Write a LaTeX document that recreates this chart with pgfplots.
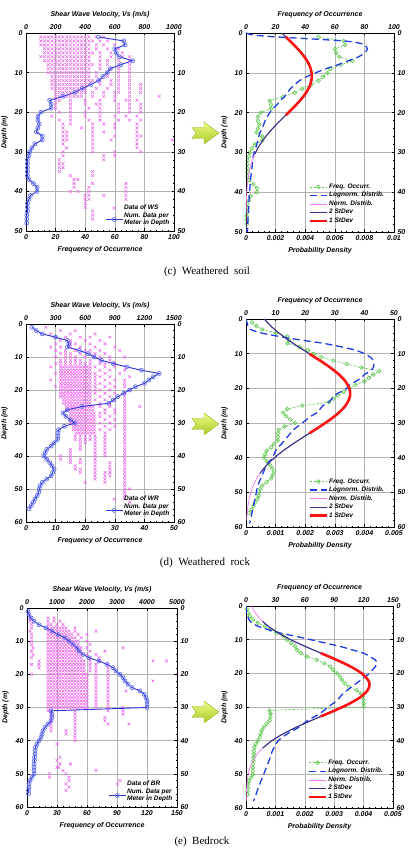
\documentclass[border=0pt]{standalone}
\usepackage{fontspec}
\setmainfont{Liberation Sans}
\newfontfamily\capfont{Liberation Serif}
\usepackage{pgfplots}
\pgfplotsset{compat=1.18}
\definecolor{pinkx}{RGB}{236,105,236}
\definecolor{blueline}{RGB}{45,45,215}
\definecolor{bluecirc}{RGB}{95,110,240}
\definecolor{greenc}{RGB}{95,200,80}
\definecolor{logblue}{RGB}{30,60,225}
\definecolor{normpink}{RGB}{240,120,240}
\definecolor{navyc}{RGB}{50,50,130}
\definecolor{redc}{RGB}{250,20,20}
\newcommand\lf{\fontsize{7}{8}\selectfont\bfseries\itshape}
\newcommand\lgf{\fontsize{6.5}{7.2}\selectfont\bfseries\itshape}
\pgfplotsset{
 base/.style={scale only axis, y dir=reverse, ymin=0, xmin=0, anchor=south west,
   tick align=inside, major tick length=2.5pt, minor tick length=1.3pt,
   minor x tick num=4, minor y tick num=4,
   tick style={black, line width=0.4pt}, axis line style={line width=0.5pt},
   ticklabel style={font=\lf}, label style={font=\lf},
   /pgf/number format/assume math mode=true, /pgf/number format/1000 sep={},
   scaled x ticks=false, clip=true},
 top/.style={base, xticklabel pos=upper, yticklabel pos=right, grid=major,
   major grid style={gray!60, line width=0.5pt}},
 bot/.style={base, xticklabel pos=lower, yticklabel pos=left, ylabel={Depth (m)}},
 leftleg/.style={legend style={at={(0.995,0.01)}, anchor=south east, draw=none, fill=none,
   font=\lgf, nodes={align=left, inner sep=0.8pt}, row sep=0pt}, legend cell align=left},
 rightleg/.style={legend style={at={(0.96,0.025)}, anchor=south east, draw=none, fill=none,
   font=\lgf, nodes={inner sep=0.9pt}, row sep=0.6pt}, legend cell align=left},
 scat/.style={only marks, mark=x, mark size=2pt, draw=pinkx, mark options={line width=0.55pt, draw=pinkx}},
 freqline/.style={color=blueline, line width=0.9pt, mark=o, mark size=2pt, mark options={solid, draw=bluecirc, line width=0.7pt}},
 freqgreen/.style={color=greenc, line width=0.6pt, dash pattern=on 2.5pt off 1.5pt, mark=o, mark size=1.9pt, mark options={solid, line width=0.6pt}},
 lognorm/.style={color=logblue, line width=1.3pt, dash pattern=on 7pt off 4pt, no marks, smooth},
 normp/.style={color=normpink, line width=0.7pt, no marks, smooth},
 sd2/.style={color=navyc, line width=1.1pt, no marks, smooth},
 sd1/.style={color=redc, line width=2.6pt, no marks, smooth},
}
\newcommand\garrow[1]{%
 \begin{scope}[shift={(0pt,#1)}]
 \path[top color={rgb,255:red,240;green,248;blue,130}, bottom color={rgb,255:red,165;green,205;blue,40}, draw={rgb,255:red,150;green,180;blue,40}, line width=0.4pt]
 (192pt,5.5pt) -- (204pt,5.5pt) -- (204pt,11pt) -- (219pt,0pt) -- (204pt,-11pt) -- (204pt,-5.5pt) -- (192pt,-5.5pt) -- (196pt,0pt) -- cycle;
 \end{scope}}
\begin{document}
\begin{tikzpicture}
\useasboundingbox (0,0) rectangle (416pt,849pt);
%================= (c) left =================
\begin{axis}[top, at={(26pt,618pt)}, width=148pt, height=198pt, xmax=1000, ymax=50,
  xtick={0,200,400,600,800,1000}, ytick={0,10,20,30,40,50}, xlabel={Shear Wave Velocity, Vs (m/s)}]
\addplot[scat] coordinates {
(100,1)(125,1)(150,1)(175,1)(200,1)(225,1)(250,1)(275,1)(300,1)(325,1)(350,1)(375,1)(400,1)(425,1)(475,1)(525,1)
(100,2)(125,2)(150,2)(175,2)(200,2)(225,2)(250,2)(275,2)(300,2)(325,2)(350,2)(375,2)(400,2)(425,2)(450,2)(500,2)(550,2)
(100,3)(125,3)(150,3)(175,3)(200,3)(225,3)(250,3)(275,3)(300,3)(325,3)(350,3)(375,3)(400,3)(425,3)(475,3)(525,3)(600,3)
(125,4)(150,4)(175,4)(200,4)(225,4)(250,4)(275,4)(300,4)(325,4)(350,4)(375,4)(400,4)(425,4)(475,4)(550,4)(625,4)
(125,5)(150,5)(175,5)(200,5)(225,5)(250,5)(275,5)(300,5)(325,5)(350,5)(375,5)(400,5)(425,5)(450,5)(500,5)(575,5)(650,5)
(100,6)(125,6)(150,6)(175,6)(200,6)(225,6)(250,6)(275,6)(300,6)(325,6)(350,6)(375,6)(400,6)(425,6)(500,6)(575,6)(650,6)(700,6)
(125,7)(150,7)(175,7)(200,7)(225,7)(250,7)(275,7)(300,7)(325,7)(350,7)(375,7)(400,7)(425,7)(500,7)(550,7)(625,7)(700,7)
(150,8)(175,8)(200,8)(225,8)(250,8)(275,8)(300,8)(325,8)(350,8)(375,8)(400,8)(425,8)(450,8)(500,8)(550,8)(625,8)(700,8)
(150,9)(175,9)(200,9)(225,9)(250,9)(275,9)(300,9)(325,9)(350,9)(375,9)(400,9)(425,9)(500,9)(575,9)(625,9)(700,9)
(150,10)(175,10)(200,10)(225,10)(250,10)(275,10)(300,10)(325,10)(350,10)(375,10)(400,10)(425,10)(475,10)(550,10)(625,10)(700,10)
(175,11)(200,11)(225,11)(250,11)(275,11)(300,11)(325,11)(350,11)(375,11)(400,11)(425,11)(475,11)(550,11)(625,11)(700,11)
(175,12)(200,12)(225,12)(250,12)(275,12)(300,12)(325,12)(350,12)(375,12)(400,12)(425,12)(450,12)(500,12)(575,12)(625,12)(700,12)
(175,13)(200,13)(225,13)(250,13)(275,13)(300,13)(325,13)(350,13)(375,13)(400,13)(425,13)(500,13)(575,13)(625,13)(700,13)(775,13)
(175,14)(200,14)(225,14)(250,14)(275,14)(300,14)(325,14)(350,14)(375,14)(400,14)(475,14)(550,14)(625,14)(700,14)(775,14)
(200,15)(225,15)(250,15)(275,15)(300,15)(325,15)(350,15)(375,15)(400,15)(450,15)(525,15)(600,15)(625,15)(700,15)(775,15)
(200,16)(225,16)(250,16)(275,16)(300,16)(325,16)(350,16)(375,16)(450,16)(525,16)(600,16)(700,16)(900,16)
(200,17)(225,17)(300,17)(400,17)(500,17)(600,17)(675,17)(700,17)(750,17)
(200,18)(300,18)(400,18)(475,18)(500,18)(625,18)(700,18)(775,18)
(200,19)(300,19)(425,19)(500,19)(625,19)(700,19)(775,19)
(225,20)(300,20)(400,20)(500,20)(625,20)(700,20)(775,20)
(175,21)(300,21)(400,21)(500,21)(600,21)(675,21)(750,21)
(225,22)(300,22)(425,22)(500,22)(625,22)(700,22)(775,22)
(250,23)(300,23)(450,23)(525,23)(600,23)(750,23)
(250,24)(375,24)(450,24)(600,24)(750,24)
(250,25)(275,25)(450,25)(525,25)(750,25)
(250,26)(275,26)(450,26)(600,26)(750,26)(775,26)
(250,27)(275,27)(450,27)(575,27)(750,27)(990,27)
(250,28)(450,28)(750,28)
(275,29)(450,29)(750,29)
(250,30)(450,30)(600,30)(775,30)
(250,31)(525,31)(600,31)
(225,32)(525,32)
(225,33)(250,33)
(225,34)(250,34)
(225,35)(450,35)
(300,36)(450,36)
(325,37)(350,37)
(325,38)(450,38)(675,38)
(325,39)(425,39)(675,39)
(300,40)(350,40)(425,40)(675,40)
(400,41)(425,41)(525,41)(675,41)
(400,42)(425,42)(675,42)
(400,43)(400,44)(450,45)(450,46)(450,47)
};
\end{axis}
\begin{axis}[bot, leftleg, at={(26pt,618pt)}, width=148pt, height=198pt, xmax=100, ymax=50,
  xtick={0,20,40,60,80,100}, ytick={0,10,20,30,40,50}, xlabel={Frequency of Occurrence}]
\addlegendimage{scat}
\addlegendentry{Data of WS}
\addplot[freqline] coordinates {(49,1)(66,2)(67,3)(60,4)(61,5)(63,6)(72,7)(64,8)(57,9)(55,10)(52,11)(49,12)(44,13)(38,14)(33,15)(25,16)(16,17)(17,18)(17,19)(10,20)(8,21)(8,22)(9,23)(8,24)(7,25)(11,26)(11,27)(6,28)(4,29)(2.5,30)(2,31)(1,32)(1,33)(1,34)(1,35)(1,36)(2,37)(5,38)(7.5,39)(7.5,40)(3,41)(2,42)(1,43)(1,44)(1,45)(0.5,46)(0.5,47)(0.5,48)};
\addlegendentry{Num. Data per\\Meter in Depth}
\end{axis}
%================= (c) right =================
\begin{axis}[top, at={(246pt,617pt)}, width=148pt, height=199pt, xmax=100, ymax=50,
  xtick={0,20,40,60,80,100}, ytick={0,10,20,30,40,50}, xlabel={Frequency of Occurrence}]
\addplot[freqgreen] coordinates {(49,1)(66,2)(67,3)(60,4)(61,5)(63,6)(72,7)(64,8)(57,9)(55,10)(52,11)(49,12)(44,13)(38,14)(33,15)(25,16)(16,17)(17,18)(17,19)(10,20)(8,21)(8,22)(9,23)(8,24)(7,25)(11,26)(11,27)(6,28)(4,29)(2.5,30)(2,31)(1,32)(1,33)(1,34)(1,35)(1,36)(2,37)(5,38)(7.5,39)(7.5,40)(3,41)(2,42)(1,43)(1,44)(1,45)(0.5,46)(0.5,47)(0.5,48)};
\end{axis}
\begin{axis}[bot, rightleg, at={(246pt,617pt)}, width=148pt, height=199pt, xmax=0.01, ymax=50,
  xtick={0,0.002,0.004,0.006,0.008,0.01}, xticklabels={0,0.002,0.004,0.006,0.008,0.01},
  ytick={0,10,20,30,40,50}, xlabel={Probability Density}]
\addlegendimage{freqgreen}
\addlegendentry{Freq. Occurr.}
\addplot[lognorm] coordinates {(0,0)(0.0005,0.5)(0.0021,1)(0.0045,1.5)(0.0066,2)(0.0076,2.5)(0.0080,3)(0.0082,4)(0.0080,5)(0.0076,6)(0.0069,7)(0.0062,8)(0.0054,9)(0.0047,10)(0.0041,11)(0.0036,12)(0.0033,13)(0.0030,14)(0.0028,15)(0.0026,16)(0.0023,17)(0.0021,18)(0.0018,19)(0.0016,20)(0.0013,22)(0.0011,24)(0.00095,25)(0.0008,27)(0.00065,29)(0.00055,30)(0.00045,32)(0.0004,34)(0.00033,36)(0.00028,38)(0.00024,40)(0.0002,42)(0.00016,45)(0.00012,48)(0.0001,50)};
\addlegendentry{Lognorm. Distrib.}
\addplot[normp] coordinates {(0.002425,0)(0.002699,1)(0.002973,2)(0.003242,3)(0.003498,4)(0.003735,5)(0.003947,6)(0.004128,7)(0.004272,8)(0.004376,9)(0.004435,10)(0.004449,11)(0.004417,12)(0.004339,13)(0.004219,14)(0.004060,15)(0.003866,16)(0.003643,17)(0.003397,18)(0.003136,19)(0.002864,20)(0.002589,21)(0.002316,22)(0.002051,23)(0.001796,24)(0.001558,25)(0.001337,26)(0.001135,27)(0.000954,28)(0.000793,29)(0.000653,30)(0.000532,31)(0.000428,32)(0.000342,33)(0.000270,34)(0.000211,35)(0.000163,36)(0.0000945,38)(0.0000525,40)(0.000028,42)(0.0000101,45)(0.0000015,50)};
\addlegendentry{Norm. Distrib.}
\addplot[sd2] coordinates {(0.002425,0)(0.002699,1)(0.002973,2)(0.003242,3)(0.003498,4)(0.003735,5)(0.003947,6)(0.004128,7)(0.004272,8)(0.004376,9)(0.004435,10)(0.004449,11)(0.004417,12)(0.004339,13)(0.004219,14)(0.004060,15)(0.003866,16)(0.003643,17)(0.003397,18)(0.003136,19)(0.002864,20)(0.002589,21)(0.002316,22)(0.002051,23)(0.001796,24)(0.001558,25)(0.001337,26)(0.001135,27)(0.000954,28)(0.000793,29)(0.000653,30)(0.000602,30.4)};
\addlegendentry{2 StDev}
\addplot[sd1] coordinates {(0.002699,1)(0.002973,2)(0.003242,3)(0.003498,4)(0.003735,5)(0.003947,6)(0.004128,7)(0.004272,8)(0.004376,9)(0.004435,10)(0.004449,11)(0.004417,12)(0.004339,13)(0.004219,14)(0.004060,15)(0.003866,16)(0.003643,17)(0.003397,18)(0.003136,19)(0.002864,20)(0.002699,20.6)};
\addlegendentry{1 StDev}
\end{axis}
%================= (d) left =================
\begin{axis}[top, at={(26pt,327pt)}, width=148pt, height=198pt, xmax=1500, ymax=60,
  xtick={0,300,600,900,1200,1500}, ytick={0,10,20,30,40,50,60}, xlabel={Shear Wave Velocity, Vs (m/s)}]
\addplot[scat] coordinates {
(200,1)(350,2)(500,2)(250,3)(450,3)(700,3)
(300,4)(400,4)(550,4)(650,4)(850,4)
(350,5)(450,5)(600,5)(750,5)
(300,6)(450,6)(500,6)(650,6)(800,6)
(250,7)(350,7)(450,7)(550,7)(700,7)(900,7)
(300,8)(400,8)(500,8)(600,8)(650,8)(750,8)(950,8)
(350,9)(400,9)(450,9)(550,9)(650,9)(700,9)(800,9)
(300,10)(400,10)(450,10)(500,10)(600,10)(700,10)(750,10)(850,10)(1000,10)
(350,11)(400,11)(450,11)(500,11)(550,11)(650,11)(750,11)(850,11)
(300,12)(350,12)(400,12)(450,12)(500,12)(550,12)(600,12)(650,12)(750,12)(800,12)(900,12)
(250,13)(350,13)(380,13)(410,13)(440,13)(470,13)(500,13)(530,13)(560,13)(590,13)(620,13)(650,13)(700,13)(800,13)(900,13)
(350,14)(380,14)(410,14)(440,14)(470,14)(500,14)(530,14)(560,14)(590,14)(620,14)(650,14)(750,14)(850,14)(1000,14)
(300,15)(350,15)(380,15)(410,15)(440,15)(470,15)(500,15)(530,15)(560,15)(590,15)(620,15)(650,15)(700,15)(800,15)(950,15)
(350,16)(380,16)(410,16)(440,16)(470,16)(500,16)(530,16)(560,16)(590,16)(620,16)(650,16)(700,16)(750,16)(850,16)(1050,16)
(250,17)(350,17)(380,17)(410,17)(440,17)(470,17)(500,17)(530,17)(560,17)(590,17)(620,17)(650,17)(700,17)(800,17)(900,17)(1000,17)
(350,18)(380,18)(410,18)(440,18)(470,18)(500,18)(530,18)(560,18)(590,18)(620,18)(650,18)(700,18)(750,18)(850,18)(1000,18)
(300,19)(350,19)(380,19)(410,19)(440,19)(470,19)(500,19)(530,19)(560,19)(590,19)(620,19)(650,19)(700,19)(800,19)(900,19)(1000,19)
(350,20)(380,20)(410,20)(440,20)(470,20)(500,20)(530,20)(560,20)(590,20)(620,20)(650,20)(700,20)(750,20)(850,20)(1050,20)
(350,21)(380,21)(410,21)(440,21)(470,21)(500,21)(530,21)(560,21)(590,21)(620,21)(650,21)(700,21)(800,21)(900,21)(1000,21)
(350,22)(380,22)(410,22)(440,22)(470,22)(500,22)(530,22)(560,22)(590,22)(620,22)(650,22)(750,22)(850,22)(1000,22)
(380,23)(410,23)(440,23)(470,23)(500,23)(530,23)(560,23)(590,23)(620,23)(650,23)(700,23)(800,23)(900,23)(1000,23)
(380,24)(410,24)(440,24)(470,24)(500,24)(530,24)(560,24)(590,24)(620,24)(650,24)(750,24)(850,24)(1000,24)
(410,25)(440,25)(470,25)(500,25)(530,25)(560,25)(590,25)(620,25)(650,25)(680,25)(750,25)(850,25)(1000,25)(1150,25)
(410,26)(440,26)(470,26)(500,26)(530,26)(560,26)(590,26)(620,26)(650,26)(680,26)(800,26)(900,26)(1000,26)
(450,27)(480,27)(510,27)(540,27)(570,27)(600,27)(630,27)(660,27)(690,27)(750,27)(800,27)(900,27)(1000,27)
(450,28)(480,28)(510,28)(540,28)(570,28)(600,28)(630,28)(660,28)(690,28)(750,28)(850,28)(1000,28)
(450,29)(480,29)(510,29)(540,29)(570,29)(600,29)(630,29)(660,29)(690,29)(800,29)(900,29)(1000,29)
(450,30)(480,30)(510,30)(540,30)(570,30)(600,30)(630,30)(660,30)(690,30)(750,30)(850,30)(1000,30)
(480,31)(510,31)(540,31)(570,31)(600,31)(630,31)(660,31)(690,31)(800,31)(900,31)(1000,31)
(480,32)(510,32)(540,32)(570,32)(600,32)(630,32)(660,32)(690,32)(750,32)(850,32)(1000,32)
(510,33)(540,33)(570,33)(600,33)(630,33)(660,33)(690,33)(800,33)(1000,33)
(500,34)(550,34)(600,34)(650,34)(700,34)(800,34)(1000,34)
(500,35)(550,35)(600,35)(650,35)(700,35)(800,35)(1000,35)
(550,36)(600,36)(700,36)(800,36)(1000,36)
(550,37)(700,37)(800,37)(1000,37)
(450,38)(550,38)(700,38)(800,38)(1000,38)
(450,39)(700,39)(800,39)(1000,39)
(350,40)(450,40)(700,40)(800,40)(1000,40)
(350,41)(450,41)(550,41)(700,41)(1000,41)
(450,42)(550,42)(700,42)(850,42)(1000,42)
(500,43)(700,43)(850,43)(1000,43)
(500,44)(550,44)(700,44)(850,44)(1000,44)
(550,45)(700,45)(800,45)(850,45)(1000,45)
(700,46)(800,46)(850,46)(1000,46)
(700,47)(800,47)(1000,47)
(600,48)(800,48)(1000,48)
(1000,49)(1000,50)(1050,50)(1000,51)(1000,52)(1000,53)(1050,54)
};
\end{axis}
\begin{axis}[bot, leftleg, at={(26pt,327pt)}, width=148pt, height=198pt, xmax=50, ymax=60,
  xtick={0,10,20,30,40,50}, ytick={0,10,20,30,40,50,60}, xlabel={Frequency of Occurrence}]
\addlegendimage{scat}
\addlegendentry{Data of WR}
\addplot[freqline] coordinates {(2,1)(3.5,2)(5.5,3)(10,4)(14,5)(14.5,6)(14,7)(18,8)(21,9)(23,10)(25.5,11)(29.5,12)(34,13)(39,14)(45,15)(43,16)(41.5,17)(40,18)(37,19)(35,20)(33,21)(31,22)(29.5,23)(28,24)(19,25)(14,26)(12.5,27)(13.5,28)(15,29)(16.5,30)(13,31)(11,32)(10.8,33)(10.8,34)(10.7,35)(9.5,36)(8.5,37)(7,38)(6.5,39)(6,40)(7,41)(8,42)(8.8,43)(9.5,44)(9,45)(8.5,46)(7,47)(5.5,48)(4.8,49)(4.5,50)(4.3,51)(3.8,52)(3,53)(2.5,54)(1.8,55)(1,56)};
\addlegendentry{Num. Data per\\Meter in Depth}
\end{axis}
%================= (d) right =================
\begin{axis}[top, at={(246pt,322pt)}, width=148pt, height=208pt, xmax=50, ymax=60,
  xtick={0,10,20,30,40,50}, ytick={0,10,20,30,40,50,60}, xlabel={Frequency of Occurrence}]
\addplot[freqgreen] coordinates {(2,1)(3.5,2)(5.5,3)(10,4)(14,5)(14.5,6)(14,7)(18,8)(21,9)(23,10)(25.5,11)(29.5,12)(34,13)(39,14)(45,15)(43,16)(41.5,17)(40,18)(37,19)(35,20)(33,21)(31,22)(29.5,23)(28,24)(19,25)(14,26)(12.5,27)(13.5,28)(15,29)(16.5,30)(13,31)(11,32)(10.8,33)(10.8,34)(10.7,35)(9.5,36)(8.5,37)(7,38)(6.5,39)(6,40)(7,41)(8,42)(8.8,43)(9.5,44)(9,45)(8.5,46)(7,47)(5.5,48)(4.8,49)(4.5,50)(4.3,51)(3.8,52)(3,53)(2.5,54)(1.8,55)(1,56)};
\end{axis}
\begin{axis}[bot, rightleg, at={(246pt,322pt)}, width=148pt, height=208pt, xmax=0.005, ymax=60,
  xtick={0,0.001,0.002,0.003,0.004,0.005}, xticklabels={0,0.001,0.002,0.003,0.004,0.005},
  ytick={0,10,20,30,40,50,60}, xlabel={Probability Density}]
\addlegendimage{freqgreen}
\addlegendentry{Freq. Occurr.}
\addplot[lognorm] coordinates {(0,0)(0.00003,1)(0.00007,2)(0.00015,3)(0.0005,4)(0.0011,5)(0.0018,6)(0.0026,7)(0.0032,8)(0.0037,9)(0.0040,10)(0.0042,11)(0.0043,12)(0.00432,13)(0.0043,14)(0.0042,15)(0.0040,16)(0.0039,17)(0.0037,18)(0.0035,19)(0.0034,20)(0.0032,21)(0.0030,22)(0.0028,24)(0.0026,25)(0.0024,27)(0.0022,28)(0.0019,30)(0.0016,32)(0.0014,34)(0.0012,36)(0.0010,38)(0.0009,40)(0.0007,42)(0.0006,44)(0.0005,46)(0.0004,48)(0.00035,50)(0.0003,52)(0.00025,54)(0.0002,56)(0.00015,58)(0.00012,59)};
\addlegendentry{Lognorm. Distrib.}
\addplot[normp] coordinates {(0.000613,0)(0.000836,2)(0.001106,4)(0.001419,6)(0.001767,8)(0.002135,10)(0.002502,12)(0.002846,14)(0.003140,16)(0.003361,18)(0.003490,20)(0.00352,21.5)(0.003490,23)(0.003361,25)(0.003140,27)(0.002846,29)(0.002502,31)(0.002135,33)(0.001767,35)(0.001419,37)(0.001106,39)(0.000836,41)(0.000613,43)(0.000476,44.5)(0.000364,46)(0.000247,48)(0.000163,50)(0.000105,52)(0.000065,54)(0.000039,56)(0.000023,58)};
\addlegendentry{Norm. Distrib.}
\addplot[sd2] coordinates {(0.000613,0)(0.000836,2)(0.001106,4)(0.001419,6)(0.001767,8)(0.002135,10)(0.002502,12)(0.002846,14)(0.003140,16)(0.003361,18)(0.003490,20)(0.00352,21.5)(0.003490,23)(0.003361,25)(0.003140,27)(0.002846,29)(0.002502,31)(0.002135,33)(0.001767,35)(0.001419,37)(0.001106,39)(0.000836,41)(0.000613,43)(0.000476,44.5)};
\addlegendentry{2 StDev}
\addplot[sd1] coordinates {(0.002135,10)(0.002502,12)(0.002846,14)(0.003140,16)(0.003361,18)(0.003490,20)(0.00352,21.5)(0.003490,23)(0.003361,25)(0.003140,27)(0.002846,29)(0.002502,31)(0.002135,33)};
\addlegendentry{1 StDev}
\end{axis}
%================= (e) left =================
\begin{axis}[top, at={(27pt,42pt)}, width=150pt, height=199pt, xmax=5000, ymax=60,
  xtick={0,1000,2000,3000,4000,5000}, ytick={0,10,20,30,40,50,60}, xlabel={Shear Wave Velocity, Vs (m/s)}]
\addplot[scat] coordinates {
(50,2)(100,3)(700,3)(900,3)
(100,4)(700,4)(900,4)(1100,4)
(150,5)(700,5)(800,5)(1000,5)(1200,5)
(150,6)(700,6)(800,6)(900,6)(1000,6)(1100,6)(1200,6)(1300,6)(1600,6)
(100,7)(700,7)(800,7)(900,7)(1000,7)(1100,7)(1200,7)(1300,7)(1400,7)(1600,7)(2300,7)
(150,8)(700,8)(800,8)(900,8)(1000,8)(1100,8)(1200,8)(1300,8)(1400,8)(1500,8)(1700,8)(2000,8)
(150,9)(700,9)(800,9)(900,9)(1000,9)(1100,9)(1200,9)(1300,9)(1400,9)(1500,9)(1600,9)(1800,9)
(150,10)(700,10)(800,10)(900,10)(1000,10)(1100,10)(1200,10)(1300,10)(1400,10)(1500,10)(1600,10)(1700,10)(2000,10)
(150,11)(700,11)(800,11)(900,11)(1000,11)(1100,11)(1200,11)(1300,11)(1400,11)(1500,11)(1600,11)(1700,11)(2100,11)
(200,12)(700,12)(800,12)(900,12)(1000,12)(1100,12)(1200,12)(1300,12)(1400,12)(1500,12)(1600,12)(1700,12)(1800,12)(2000,12)(3200,12)
(150,13)(700,13)(800,13)(900,13)(1000,13)(1100,13)(1200,13)(1300,13)(1400,13)(1500,13)(1600,13)(1700,13)(1800,13)(2100,13)(2600,13)
(200,14)(700,14)(800,14)(900,14)(1000,14)(1100,14)(1200,14)(1300,14)(1400,14)(1500,14)(1600,14)(1700,14)(1800,14)(2000,14)(2300,14)
(150,15)(700,15)(800,15)(900,15)(1000,15)(1100,15)(1200,15)(1300,15)(1400,15)(1500,15)(1600,15)(1700,15)(1800,15)(2100,15)(2400,15)
(400,16)(700,16)(800,16)(900,16)(1000,16)(1100,16)(1200,16)(1300,16)(1400,16)(1500,16)(1600,16)(1700,16)(1800,16)(1900,16)(2100,16)(2400,16)(4200,16)(4650,16)
(150,17)(400,17)(700,17)(800,17)(900,17)(1000,17)(1100,17)(1200,17)(1300,17)(1400,17)(1500,17)(1600,17)(1700,17)(1800,17)(1900,17)(2100,17)(2300,17)(2700,17)
(400,18)(700,18)(800,18)(900,18)(1000,18)(1100,18)(1200,18)(1300,18)(1400,18)(1500,18)(1600,18)(1700,18)(1800,18)(1900,18)(2100,18)(2300,18)(2700,18)
(700,19)(800,19)(900,19)(1000,19)(1100,19)(1200,19)(1300,19)(1400,19)(1500,19)(1600,19)(1700,19)(1800,19)(1900,19)(2100,19)(2300,19)(2700,19)
(150,20)(700,20)(800,20)(900,20)(1000,20)(1100,20)(1200,20)(1300,20)(1400,20)(1500,20)(1600,20)(1700,20)(1800,20)(1900,20)(2000,20)(2300,20)(2700,20)(5000,20)
(700,21)(800,21)(900,21)(1000,21)(1100,21)(1200,21)(1300,21)(1400,21)(1500,21)(1600,21)(1700,21)(1800,21)(1900,21)(2000,21)(2300,21)(2700,21)
(700,22)(800,22)(900,22)(1000,22)(1100,22)(1200,22)(1300,22)(1400,22)(1500,22)(1600,22)(1700,22)(1800,22)(1900,22)(2000,22)(2300,22)(2700,22)(4200,22)
(700,23)(800,23)(900,23)(1000,23)(1100,23)(1200,23)(1300,23)(1400,23)(1500,23)(1600,23)(1700,23)(1800,23)(1900,23)(2000,23)(2300,23)(2700,23)
(700,24)(800,24)(900,24)(1000,24)(1100,24)(1200,24)(1300,24)(1400,24)(1500,24)(1600,24)(1700,24)(1800,24)(1900,24)(2000,24)(2300,24)(2700,24)
(700,25)(800,25)(900,25)(1000,25)(1100,25)(1200,25)(1300,25)(1400,25)(1500,25)(1600,25)(1700,25)(1800,25)(1900,25)(2000,25)(2300,25)(2700,25)(3300,25)
(700,26)(800,26)(900,26)(1000,26)(1100,26)(1200,26)(1300,26)(1400,26)(1500,26)(1600,26)(1700,26)(1800,26)(1900,26)(2000,26)(2300,26)(2700,26)
(700,27)(800,27)(900,27)(1000,27)(1100,27)(1200,27)(1300,27)(1400,27)(1500,27)(1600,27)(1700,27)(1800,27)(1900,27)(2000,27)(2300,27)(2700,27)
(700,28)(800,28)(900,28)(1000,28)(1100,28)(1200,28)(1300,28)(1400,28)(1500,28)(1600,28)(1700,28)(1800,28)(1900,28)(2000,28)(2300,28)(2700,28)
(700,29)(800,29)(900,29)(1000,29)(1100,29)(1200,29)(1300,29)(1400,29)(1500,29)(1600,29)(1700,29)(1800,29)(1900,29)(2000,29)(2300,29)(2700,29)
(700,30)(800,30)(900,30)(1000,30)(1100,30)(1200,30)(1300,30)(1400,30)(1500,30)(1600,30)(1700,30)(1800,30)(1900,30)(2000,30)(2300,30)(2700,30)(3200,30)
(700,31)(800,31)(1600,31)(2700,31)(3200,31)
(800,32)(1600,32)(3200,32)
(800,33)(1600,33)(2600,33)
(800,34)(1600,34)(2600,34)
(800,35)(1600,35)(2700,35)(3400,35)
(800,36)(1600,36)
(800,37)(1300,37)(1600,37)
(1300,38)(1600,38)(1600,39)(1600,40)(1000,41)
(1100,45)(1000,46)(1100,47)(1450,47)(1000,48)(1050,48)(1200,49)(2300,49)
(750,50)(1300,50)(750,51)(1400,51)(1400,52)(3100,52)(1300,53)(1400,54)(1300,55)
};
\end{axis}
\begin{axis}[bot, leftleg, at={(27pt,42pt)}, width=150pt, height=199pt, xmax=150, ymax=60,
  xtick={0,30,60,90,120,150}, ytick={0,10,20,30,40,50,60}, xlabel={Frequency of Occurrence}]
\addlegendimage{scat}
\addlegendentry{Data of BR}
\addplot[freqline] coordinates {(1,1)(2,2)(4,3)(7,4)(12,5)(19,6)(25,7)(31,8)(38,9)(42,10)(46,11)(50,12)(52,13)(56,14)(62,15)(72,16)(80,17)(86,18)(89,19)(93,20)(96,21)(98,22)(101,23)(105,24)(113,25)(117,26)(119,27)(120,28)(120,29)(120,30)(24,31)(25,32)(25,33)(24,34)(21,35)(18,36)(16,37)(15,38)(14,39)(12,40)(10,41)(8.5,42)(8,43)(8,44)(7.5,45)(7.5,46)(7,47)(7,48)(7,49)(7,50)(5,51)(3,52)(2,53)(2,54)(1.5,55)(1.5,56)};
\addlegendentry{Num. Data per\\Meter in Depth}
\end{axis}
%================= (e) right =================
\begin{axis}[top, at={(246pt,41pt)}, width=147pt, height=202pt, xmax=150, ymax=60,
  xtick={0,30,60,90,120,150}, ytick={0,10,20,30,40,50,60}, xlabel={Frequency of Occurrence}]
\addplot[freqgreen] coordinates {(1,1)(2,2)(4,3)(7,4)(12,5)(19,6)(25,7)(31,8)(38,9)(42,10)(46,11)(50,12)(52,13)(56,14)(62,15)(72,16)(80,17)(86,18)(89,19)(93,20)(96,21)(98,22)(101,23)(105,24)(113,25)(117,26)(119,27)(120,28)(120,29)(120,30)(24,31)(25,32)(25,33)(24,34)(21,35)(18,36)(16,37)(15,38)(14,39)(12,40)(10,41)(8.5,42)(8,43)(8,44)(7.5,45)(7.5,46)(7,47)(7,48)(7,49)(7,50)(5,51)(3,52)(2,53)(2,54)(1.5,55)(1.5,56)};
\end{axis}
\begin{axis}[bot, rightleg, at={(246pt,41pt)}, width=147pt, height=202pt, xmax=0.005, ymax=60,
  xtick={0,0.001,0.002,0.003,0.004,0.005}, xticklabels={0,0.001,0.002,0.003,0.004,0.005},
  ytick={0,10,20,30,40,50,60}, xlabel={Probability Density}]
\addlegendimage{freqgreen}
\addlegendentry{Freq. Occurr.}
\addplot[lognorm] coordinates {(0,0)(0.00002,2)(0.00005,3)(0.0001,4)(0.0002,5)(0.0004,6)(0.00075,7)(0.00115,8)(0.0017,9)(0.0022,10)(0.0027,11)(0.0032,12)(0.0036,13)(0.0040,14)(0.0042,15)(0.0044,16)(0.00445,17)(0.0044,18)(0.0043,19)(0.0042,20)(0.0039,22)(0.0036,24)(0.0033,26)(0.0031,28)(0.0028,30)(0.0025,32)(0.0021,34)(0.0018,36)(0.0014,38)(0.0011,40)(0.0009,43)(0.00078,46)(0.0006,50)(0.00042,54)(0.0003,57)(0.00025,58)};
\addlegendentry{Lognorm. Distrib.}
\addplot[normp] coordinates {(0.000190,0)(0.000246,1)(0.000315,2)(0.000399,3)(0.000499,4)(0.000568,4.6)(0.000757,6)(0.001098,8)(0.001520,10)(0.002013,12)(0.002547,14)(0.003081,16)(0.003561,18)(0.003934,20)(0.004154,22)(0.0042,23.4)(0.004140,25)(0.003903,27)(0.003517,29)(0.003029,31)(0.002547,32.8)(0.002224,34)(0.001710,36)(0.001257,38)(0.000883,40)(0.000568,42.2)(0.000381,44)(0.000233,46)(0.000137,48)(0.0000766,50)(0.000041,52)(0.0000148,55)(0.0000048,58)};
\addlegendentry{Norm. Distrib.}
\addplot[sd2] coordinates {(0.000568,4.6)(0.000757,6)(0.001098,8)(0.001520,10)(0.002013,12)(0.002547,14)(0.003081,16)(0.003561,18)(0.003934,20)(0.004154,22)(0.0042,23.4)(0.004140,25)(0.003903,27)(0.003517,29)(0.003029,31)(0.002547,32.8)(0.002224,34)(0.001710,36)(0.001257,38)(0.000883,40)(0.000568,42.2)};
\addlegendentry{2 StDev}
\addplot[sd1] coordinates {(0.002547,14)(0.003081,16)(0.003561,18)(0.003934,20)(0.004154,22)(0.0042,23.4)(0.004140,25)(0.003903,27)(0.003517,29)(0.003029,31)(0.002547,32.8)};
\addlegendentry{1 StDev}
\end{axis}
%================= arrows and captions =================
\garrow{716pt}
\garrow{425pt}
\garrow{137pt}
\node[font=\capfont\fontsize{11}{12}\selectfont] at (207pt,577pt) {(c)\ \ Weathered\ \ soil};
\node[font=\capfont\fontsize{11}{12}\selectfont] at (205pt,286pt) {(d)\ \ Weathered\ \ rock};
\node[font=\capfont\fontsize{11}{12}\selectfont] at (202pt,7pt) {(e)\ \ Bedrock};
\end{tikzpicture}
\end{document}
